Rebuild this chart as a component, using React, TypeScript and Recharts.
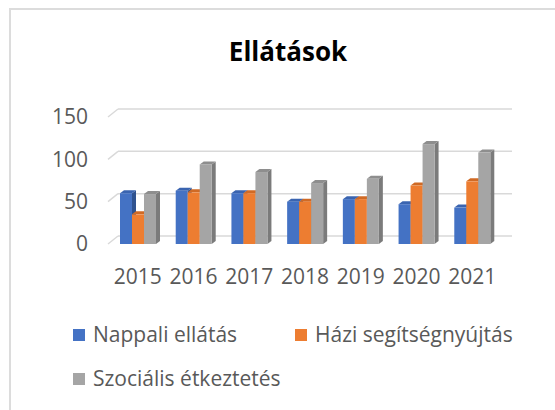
import { Bar, BarChart, CartesianGrid, Legend, XAxis, YAxis } from 'recharts';

const YEARS = ['2015', '2016', '2017', '2018', '2019', '2020', '2021'];
const NAPPALI = [60, 63, 60, 50, 53, 47, 43];
const HAZI = [35, 61, 60, 50, 53, 69, 74];
const SZOCIALIS = [59, 94, 85, 72, 77, 118, 108];
const Y_TICKS = [0, 50, 100, 150];

const SERIES = [
	{ key: 'nappali', name: 'Nappali ellátás', color: '#4472C4', side: '#2F528F', top: '#3A64B0' },
	{ key: 'hazi', name: 'Házi segítségnyújtás', color: '#ED7D31', side: '#AE5A21', top: '#D06A25' },
	{ key: 'szocialis', name: 'Szociális étkeztetés', color: '#A5A5A5', side: '#7B7B7B', top: '#8E8E8E' },
];

const FONT = '"Open Sans", sans-serif';
const TEXT = '#595959';
const DX = 4;
const DY = 3;

const data = YEARS.map((year, i) => ({
	year,
	nappali: NAPPALI[i],
	hazi: HAZI[i],
	szocialis: SZOCIALIS[i],
}));

const box3d = (front: string, side: string, top: string) => (props: any) => {
	const { x, y, width, height } = props;
	if (!height) return <g />;
	return (
		<g>
			<polygon
				points={`${x + width},${y} ${x + width + DX},${y - DY} ${x + width + DX},${y + height - DY} ${x + width},${y + height}`}
				fill={side}
			/>
			<polygon
				points={`${x},${y} ${x + DX},${y - DY} ${x + width + DX},${y - DY} ${x + width},${y}`}
				fill={top}
			/>
			<rect x={x} y={y} width={width} height={height} fill={front} />
		</g>
	);
};

// back-wall gridline with the slanted floor edge on the left
const gridLine = (props: any) => {
	const { x1, x2, y1 } = props;
	return (
		<g key={`g-${y1}`}>
			<line x1={x1 - 2} y1={y1} x2={x1 + 8} y2={y1 - 8} stroke="#d9d9d9" strokeWidth={1.5} />
			<line x1={x1 + 8} y1={y1 - 8} x2={x2 + 12} y2={y1 - 8} stroke="#d9d9d9" strokeWidth={1.5} />
		</g>
	);
};

const LEGEND_POS = [
	{ sq: 73, tx: 93, y: 335 },
	{ sq: 295, tx: 315, y: 335 },
	{ sq: 73, tx: 93, y: 379 },
];

const renderLegend = () => (
	<svg width={555} height={410} style={{ position: 'absolute', left: 0, top: 0 }}>
		{SERIES.map((s, i) => (
			<g key={s.key}>
				<rect x={LEGEND_POS[i].sq} y={LEGEND_POS[i].y - 6} width={12} height={12} fill={s.color} />
				<text
					x={LEGEND_POS[i].tx}
					y={LEGEND_POS[i].y}
					dy="0.35em"
					fontFamily={FONT}
					fontSize={21}
					fill={TEXT}
				>
					{s.name}
				</text>
			</g>
		))}
	</svg>
);

export default function App() {
	return (
		<div
			style={{
				position: 'absolute',
				left: 0,
				top: 0,
				width: 555,
				height: 410,
				overflow: 'hidden',
				background: '#fff',
			}}
		>
			<div
				style={{
					position: 'absolute',
					left: 9,
					top: 8,
					width: 600,
					height: 500,
					border: '2px solid #dcdcdc',
				}}
			/>
			<svg width={555} height={80} style={{ position: 'absolute', left: 0, top: 0 }}>
				<text x={288} y={61} textAnchor="middle" fontFamily={FONT} fontWeight="bold" fontSize={26} fill="#000">
					Ellátások
				</text>
			</svg>
			<div style={{ position: 'absolute', left: 0, top: 0 }}>
				<BarChart
					width={555}
					height={410}
					data={data}
					margin={{ top: 117, right: 55, left: 0, bottom: 136 }}
					barGap={0}
				>
					<CartesianGrid vertical={false} horizontal={gridLine} />
					<XAxis
						dataKey="year"
						axisLine={false}
						tickLine={false}
						tickSize={0}
						tickMargin={25}
						height={30}
						interval={0}
						tick={{ fontFamily: FONT, fontSize: 21, fill: TEXT }}
					/>
					<YAxis
						domain={[0, 150]}
						ticks={Y_TICKS}
						width={110}
						axisLine={false}
						tickLine={false}
						tickSize={0}
						tickMargin={22}
						tick={{ fontFamily: FONT, fontSize: 21, fill: TEXT }}
					/>
					<Legend
						layout="horizontal"
						verticalAlign="middle"
						align="center"
						wrapperStyle={{ position: 'absolute', left: 0, top: 0, width: 555, height: 410 }}
						content={renderLegend}
					/>
					{SERIES.map((s) => (
						<Bar
							key={s.key}
							dataKey={s.key}
							name={s.name}
							fill={s.color}
							barSize={12}
							isAnimationActive={false}
							shape={box3d(s.color, s.side, s.top)}
						/>
					))}
				</BarChart>
			</div>
		</div>
	);
}
